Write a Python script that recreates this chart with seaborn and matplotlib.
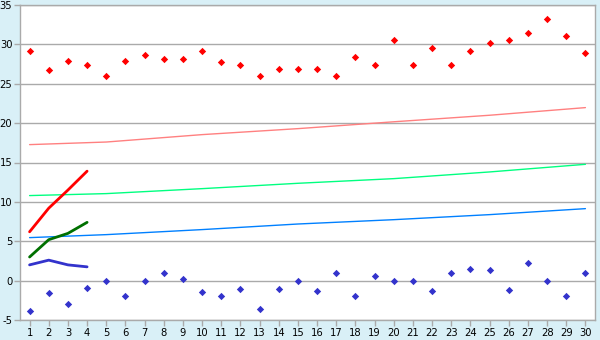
import matplotlib
matplotlib.use("Agg")
import matplotlib.pyplot as plt
import seaborn as sns
import pandas as pd

days = list(range(1, 31))
red_pts = [29.2, 26.8, 27.9, 27.4, 26.0, 27.9, 28.7, 28.2, 28.2, 29.2,
           27.8, 27.4, 26.0, 26.9, 26.9, 26.9, 26.0, 28.4, 27.4, 30.5,
           27.4, 29.6, 27.4, 29.2, 30.2, 30.6, 31.5, 33.2, 31.1, 28.9]
blue_pts = [-3.9, -1.6, -3.0, -0.9, 0.0, -2.0, 0.0, 1.0, 0.25, -1.4,
            -2.0, -1.0, -3.55, -1.0, 0.0, -1.3, 1.0, -1.9, 0.6, 0.0,
            0.0, -1.3, 1.0, 1.5, 1.4, -1.15, 2.3, 0.0, -2.0, 1.0]

trend_x = [1, 5, 10, 15, 20, 25, 30]
pink_trend = [17.27, 17.6, 18.54, 19.3, 20.17, 21.0, 21.97]
green_trend = [10.8, 11.05, 11.68, 12.36, 12.95, 13.8, 14.77]
blue_trend = [5.46, 5.84, 6.48, 7.19, 7.74, 8.38, 9.14]

short_x = [1, 2, 3, 4]
red_short = [6.2, 9.2, 11.5, 13.9]
green_short = [3.0, 5.2, 6.0, 7.4]
blue_short = [2.0, 2.6, 2.0, 1.75]

y_ticks = list(range(-5, 36, 5))

sns.set_theme(style="white")
plt.rcParams['font.family'] = ['DejaVu Sans']
plt.rcParams['axes.unicode_minus'] = False

fig = plt.figure(figsize=(6, 3.4), dpi=100, facecolor="#D9F0F7")
ax = fig.add_axes([20/600, 1-320/340, 575/600, 315/340])
ax.set_facecolor("white")

grid_c = "#AAAAAA"
for v in y_ticks:
    ax.axhline(v, color=grid_c, lw=1, zorder=0)

sns.lineplot(x=trend_x, y=pink_trend, color="#FF8080", lw=1, ax=ax)
sns.lineplot(x=trend_x, y=green_trend, color="#00FF80", lw=1, ax=ax)
sns.lineplot(x=trend_x, y=blue_trend, color="#0080FF", lw=1, ax=ax)
sns.lineplot(x=short_x, y=red_short, color="#FF0000", lw=2, ax=ax)
sns.lineplot(x=short_x, y=green_short, color="#007000", lw=2, ax=ax)
sns.lineplot(x=short_x, y=blue_short, color="#3333CC", lw=2, ax=ax)

sns.scatterplot(x=days, y=red_pts, color="#FF0000", marker="D", s=14,
                linewidth=0, ax=ax, zorder=5)
sns.scatterplot(x=days, y=blue_pts, color="#3333CC", marker="D", s=14,
                linewidth=0, ax=ax, zorder=5)

ax.set_xlim(0.5, 30.5)
ax.set_ylim(-5, 35)
ax.set_xticks(days)
ax.set_xticklabels([str(d) for d in days])
ax.set_yticks(y_ticks)
ax.set_yticklabels([str(v) for v in y_ticks])
ax.tick_params(axis="both", which="both", length=4, width=1, color=grid_c,
               labelsize=7.2, labelcolor="black", pad=1.5,
               bottom=True, left=True)
for sp in ax.spines.values():
    sp.set_color(grid_c)
    sp.set_linewidth(1)
ax.set_xlabel("")
ax.set_ylabel("")

fig.savefig("out.png", dpi=100, facecolor=fig.get_facecolor())
